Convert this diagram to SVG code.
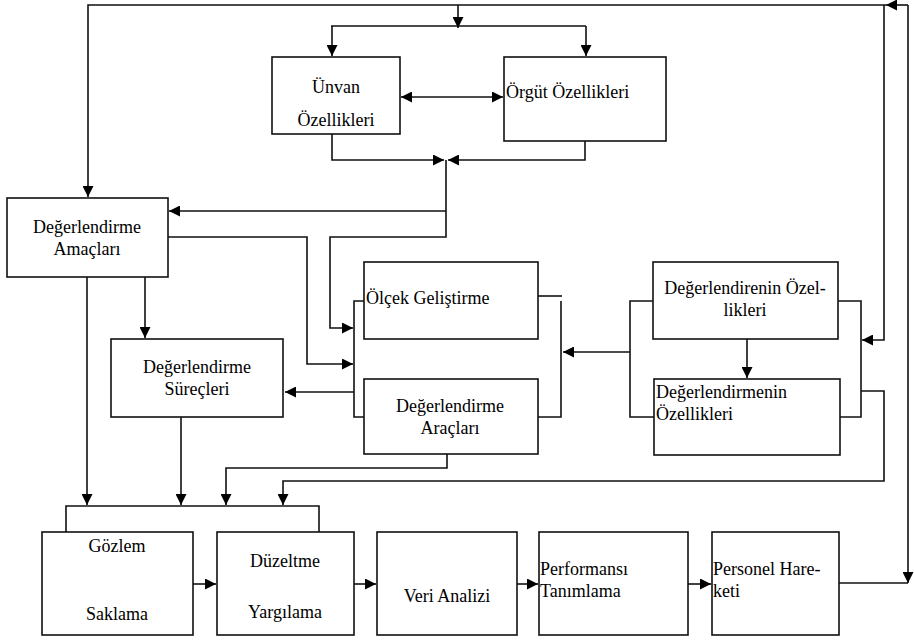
<svg xmlns="http://www.w3.org/2000/svg" width="914" height="640" viewBox="0 0 914 640">
<style>
.box{fill:#fff;stroke:#111;stroke-width:1.6}
.ln{fill:none;stroke:#111;stroke-width:1.6}
.arr{fill:none;stroke:#111;stroke-width:1.6;marker-end:url(#ah)}
.t{font-family:"Liberation Serif","Times New Roman",serif;font-size:18px;fill:#000}
.c{text-anchor:middle}
</style>
<defs>
<marker id="ah" viewBox="0 0 10 10" refX="10" refY="5" markerWidth="11" markerHeight="11" markerUnits="userSpaceOnUse" orient="auto-start-reverse">
<path d="M0,0 L10,5 L0,10 z" fill="#000"/>
</marker>
</defs>
<g id="connectors">
<path class="ln" d="M839,583 H908"/>
<path class="arr" d="M908,5 V583"/>
<path class="arr" d="M908,5 H886"/>
<path class="arr" d="M886,5 H88 V197"/>
<path class="arr" d="M884,5 V340 H862"/>
<path class="arr" d="M458,5 V28"/>
<path class="ln" d="M331,26 H586"/>
<path class="arr" d="M332,26 V56"/>
<path class="arr" d="M586,26 V56"/>
<path class="arr" d="M401,97 H503" marker-start="url(#ah)"/>
<path class="arr" d="M332,134 V160 H444"/>
<path class="arr" d="M585,141 V160 H448"/>
<path class="arr" d="M446,160 V237 H330 V328 H353"/>
<path class="arr" d="M446,211 H169"/>
<path class="arr" d="M168,237 H307 V364 H353"/>
<path class="ln" d="M364,301 H354 V417 H364"/>
<path class="arr" d="M354,392 H285"/>
<path class="arr" d="M87,277 V505"/>
<path class="arr" d="M145,277 V338"/>
<path class="arr" d="M181,417 V505"/>
<path class="ln" d="M538,296 H562"/>
<path class="ln" d="M561,301 V417 H538"/>
<path class="arr" d="M630,352 H563"/>
<path class="ln" d="M653,301 H630 V417 H654"/>
<path class="ln" d="M838,301 H861 V417 H840"/>
<path class="arr" d="M747,339 V378"/>
<path class="arr" d="M861,391 H884 V481 H283 V505"/>
<path class="arr" d="M447,454 V468 H226 V505"/>
<path class="ln" d="M66,532 V506 H319 V532"/>
<path class="arr" d="M193,584 H216"/>
<path class="arr" d="M354,584 H376"/>
<path class="arr" d="M517,584 H538"/>
<path class="arr" d="M688,584 H711"/>
<path class="arr" d="M88,563 L124,589"/>
<path class="arr" d="M252,573 L287,598"/>
</g>
<g id="unvan">
<rect class="box" x="272" y="57" width="128" height="77"/>
<text class="t c" x="336" y="93">Ünvan</text>
<text class="t c" x="336" y="126">Özellikleri</text>
</g>
<g id="orgut">
<rect class="box" x="504" y="57" width="162" height="84"/>
<text class="t" x="506" y="98">Örgüt Özellikleri</text>
</g>
<g id="amaclari">
<rect class="box" x="7" y="198" width="161" height="79"/>
<text class="t c" x="87" y="233">Değerlendirme</text>
<text class="t c" x="87" y="255">Amaçları</text>
</g>
<g id="surecleri">
<rect class="box" x="111" y="339" width="172" height="78"/>
<text class="t c" x="197" y="373">Değerlendirme</text>
<text class="t c" x="197" y="395">Süreçleri</text>
</g>
<g id="olcek">
<rect class="box" x="364" y="262" width="174" height="77"/>
<text class="t" x="366" y="304">Ölçek Geliştirme</text>
</g>
<g id="araclari">
<rect class="box" x="364" y="379" width="174" height="75"/>
<text class="t c" x="450" y="412">Değerlendirme</text>
<text class="t c" x="450" y="434">Araçları</text>
</g>
<g id="degerlendiren">
<rect class="box" x="653" y="262" width="185" height="77"/>
<text class="t c" x="745" y="294">Değerlendirenin Özel-</text>
<text class="t c" x="745" y="316">likleri</text>
</g>
<g id="degerlendirme-ozellik">
<rect class="box" x="654" y="379" width="186" height="76"/>
<text class="t" x="656" y="398">Değerlendirmenin</text>
<text class="t" x="656" y="420">Özellikleri</text>
</g>
<g id="gozlem">
<rect class="box" x="42" y="532" width="151" height="103"/>
<text class="t c" x="117" y="552">Gözlem</text>
<text class="t c" x="117" y="620">Saklama</text>
</g>
<g id="duzeltme">
<rect class="box" x="217" y="532" width="137" height="103"/>
<text class="t c" x="285" y="567">Düzeltme</text>
<text class="t c" x="285" y="618">Yargılama</text>
</g>
<g id="veri">
<rect class="box" x="377" y="532" width="140" height="103"/>
<text class="t c" x="447" y="602">Veri Analizi</text>
</g>
<g id="performans">
<rect class="box" x="539" y="532" width="149" height="103"/>
<text class="t" x="540" y="575">Performansı</text>
<text class="t" x="540" y="597">Tanımlama</text>
</g>
<g id="personel">
<rect class="box" x="712" y="532" width="127" height="103"/>
<text class="t" x="713" y="575">Personel Hare-</text>
<text class="t" x="713" y="597">keti</text>
</g>
</svg>
